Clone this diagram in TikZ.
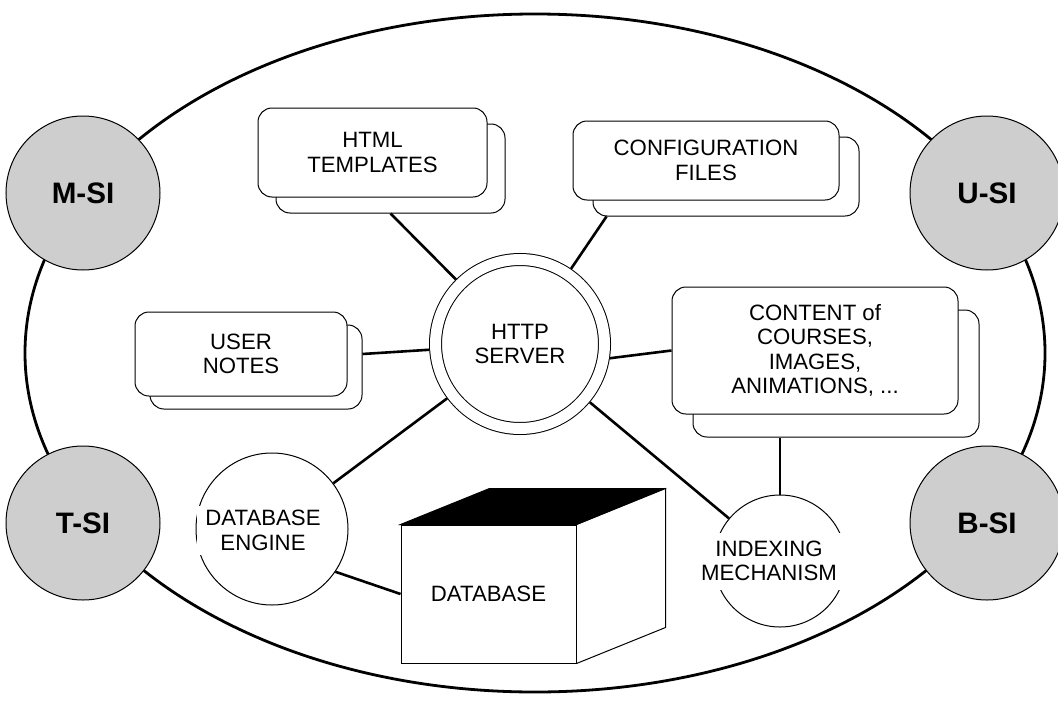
\documentclass[tikz,border=0pt]{standalone}
\usepackage{fontspec}
\setmainfont{Liberation Sans}
\usepackage{tikz}
\definecolor{sigray}{RGB}{206,206,206}
\newcommand{\lblfont}{\fontsize{11.1}{12.2}\selectfont}
\newcommand{\silbl}{\fontsize{14.8}{17}\selectfont\bfseries}
\begin{document}
\begin{tikzpicture}[x=0.5pt, y=-0.5pt,
  docbox/.style={draw, fill=white, rounded corners=7pt, line width=0.5pt, align=center, font=\lblfont},
  siball/.style={circle, draw, fill=sigray, line width=0.5pt, minimum size=77pt, font=\silbl},
  procball/.style={circle, draw, fill=white, line width=0.5pt},
  proclbl/.style={fill=white, align=center, font=\lblfont},
  link/.style={line width=1.3pt}]
\useasboundingbox (0,0) rectangle (1058,706);
\draw[line width=1.4pt] (535,353) ellipse [x radius=255pt, y radius=169.5pt];

\node[siball] (msi) at (83,193) {M-SI};
\node[siball] (tsi) at (83,523) {T-SI};
\node[siball] (usi) at (987,193) {U-SI};
\node[siball] (bsi) at (987,523) {B-SI};

\node[docbox, minimum width=114.5pt, minimum height=44.5pt] (htmlback) at (390.5,168.5) {};
\node[docbox, minimum width=114.5pt, minimum height=44.5pt] (html) at (372.5,152.5) {HTML\\TEMPLATES};
\node[docbox, minimum width=133pt, minimum height=39.5pt] (cfgback) at (726,176.5) {};
\node[docbox, minimum width=133pt, minimum height=39.5pt] (cfg) at (706,160.5) {CONFIGURATION\\FILES};
\node[docbox, minimum width=106pt, minimum height=42pt] (userback) at (256,367) {};
\node[docbox, minimum width=106pt, minimum height=42pt] (user) at (241,354) {USER\\NOTES};
\node[docbox, minimum width=143pt, minimum height=63.5pt] (contentback) at (836,373.5) {};
\node[docbox, minimum width=143pt, minimum height=63.5pt] (content) at (815,350.5) {CONTENT of\\COURSES,\\IMAGES,\\ANIMATIONS, ...};

\node[circle, draw, fill=white, double, double distance=5.5pt, line width=0.5pt,
  minimum size=84.5pt, outer sep=3.25pt, align=center, font=\lblfont] (server) at (520,344) {HTTP\\SERVER};

\node[procball, minimum size=76pt] (engine) at (272,529) {};
\node[proclbl, inner xsep=4pt, inner ysep=2pt] (enginelbl) at (263,530.5) {DATABASE\\ENGINE};
\node[procball, minimum size=66pt] (indexing) at (780,561) {};
\node[proclbl, minimum width=81pt, minimum height=28.5pt, inner sep=1pt] (indexinglbl) at (769,561) {INDEXING\\MECHANISM};

\node[draw, fill=white, line width=0.5pt, minimum width=87.5pt, minimum height=69pt, font=\lblfont] (database) at (488.5,594) {DATABASE};
\filldraw[line width=0.5pt] (database.north west) -- ++(89,-36) -- ++(175,0) -- (database.north east) -- cycle;
\draw[line width=0.5pt] (database.north east) -- ++(89,-36) -- ++(0,139) -- (database.south east);

\draw[link] (htmlback.south) -- (server);
\draw[link] ([xshift=7pt]cfgback.south west) -- (server);
\draw[link] (userback.east |- user.east) -- (server);
\draw[link] (server.-9) -- (content.west);
\draw[link] (server) -- (engine);
\draw[link] (server) -- (indexing);
\draw[link] (engine.-34) -- (database.west);
\draw[link] (contentback.south -| indexing) -- (indexing);
\end{tikzpicture}
\end{document}
